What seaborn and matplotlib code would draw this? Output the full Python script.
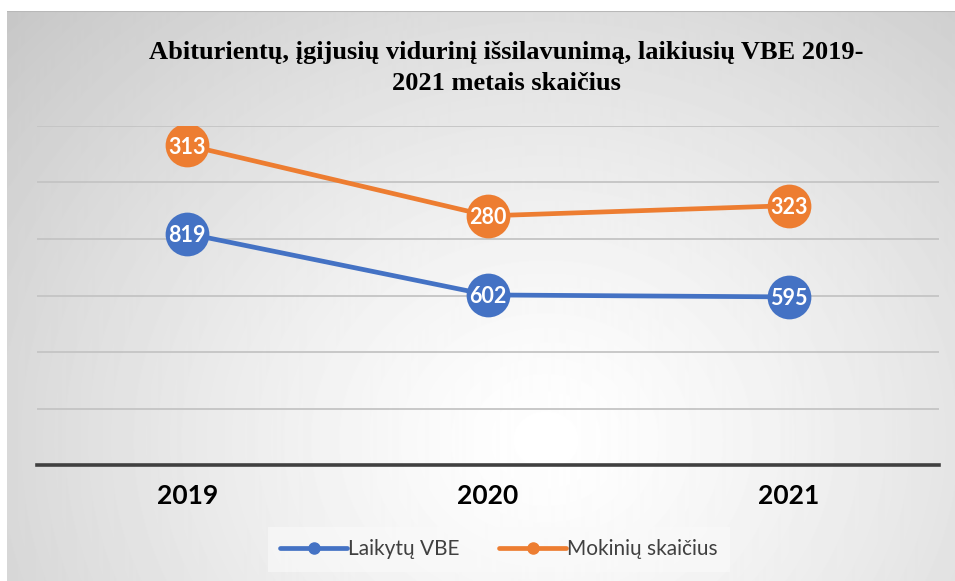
import matplotlib
matplotlib.use('Agg')
import matplotlib.pyplot as plt
import seaborn as sns
import numpy as np
import pandas as pd

# duomenys (Excel "stacked line": oranžinė linija = mėlyna + oranžinė)
years = ['2019', '2020', '2021']
laikytu_vbe = [819, 602, 595]
mokiniu_skaicius = [313, 280, 323]
series_names = ['Laikytų VBE', 'Mokinių skaičius']
colors = ['#4472C4', '#ED7D31']
title = 'Abiturientų, įgijusių vidurinį išsilavunimą, laikiusių VBE 2019-\n2021 metais skaičius'

sns.set_style('white')
plt.rcParams['font.family'] = ['Lato', 'DejaVu Sans']

W, H = 955, 581
fig = plt.figure(figsize=(W / 100, H / 100), dpi=100)
fig.patch.set_facecolor('white')

# radialinis fonas
bg = fig.add_axes([7 / W, 0, 1 - 7 / W, (H - 11) / H])
yy, xx = np.mgrid[11:H, 7:W]
r = np.hypot(xx - 545, (yy - 440) * 1.15) / 700
shade = 1 - 0.21 * np.clip(r, 0, 1.2) ** 1.3
bg.imshow(shade, cmap='gray', vmin=0, vmax=1, aspect='auto', extent=[0, 1, 0, 1])
bg.axhline(1, color='#b8b8b8', lw=1.5)
bg.set_axis_off()

ax = fig.add_axes([37 / W, (H - 465) / H, (939 - 37) / W, (465 - 126) / H])
ax.patch.set_alpha(0)

blue = np.array(laikytu_vbe)
top = blue + np.array(mokiniu_skaicius)
df = pd.DataFrame({
    'year': years * 2,
    'value': np.concatenate([blue, top]),
    'label': laikytu_vbe + mokiniu_skaicius,
    'series': [series_names[0]] * 3 + [series_names[1]] * 3,
})
df['x'] = np.tile(np.arange(len(years)), 2)

sns.lineplot(data=df, x='x', y='value', hue='series', palette=colors,
             marker='o', markersize=31.5, linewidth=3.4, markeredgewidth=0,
             legend=False, ax=ax, zorder=3)

for _, row in df.iterrows():
    ax.text(row['x'], row['value'], str(row['label']), color='white',
            fontsize=15.5, fontweight='bold', ha='center', va='center_baseline', zorder=5)

ax.set_xlim(-0.5, 2.5)
ax.set_ylim(0, 1200)
ax.set_yticks(np.arange(0, 1201, 200))
ax.set_yticklabels([])
ax.yaxis.grid(True, color='#c4c4c4', linewidth=1.3)
ax.set_xticks(range(len(years)))
ax.set_xticklabels(years, fontsize=19, fontweight='bold', color='black')
ax.tick_params(axis='both', length=0)
ax.tick_params(axis='x', pad=14)
ax.set_xlabel('')
ax.set_ylabel('')
for s in ['top', 'right', 'left']:
    ax.spines[s].set_visible(False)
ax.spines['bottom'].set_color('#404040')
ax.spines['bottom'].set_linewidth(2.6)
ax.spines['bottom'].set_zorder(4)

handles = [plt.Line2D([], [], color=c, lw=3.4, marker='o', markersize=8) for c in colors]
leg = fig.legend(handles, series_names, loc='center', bbox_to_anchor=(499 / W, (H - 549) / H),
                 ncol=2, frameon=True, fontsize=15, handlelength=3.2, handletextpad=0.05,
                 columnspacing=1.9, borderpad=0.6, labelcolor='#404040')
leg.get_frame().set_facecolor('#fafafa')
leg.get_frame().set_alpha(0.6)
leg.get_frame().set_edgecolor('none')
leg.get_frame().set_boxstyle('square', pad=0)

fig.text(506 / W, (H - 68) / H, title, ha='center', va='center', fontsize=19,
         fontweight='bold', color='black', family=['Liberation Serif', 'DejaVu Serif'],
         linespacing=1.4)

fig.savefig('out.png', dpi=100)
